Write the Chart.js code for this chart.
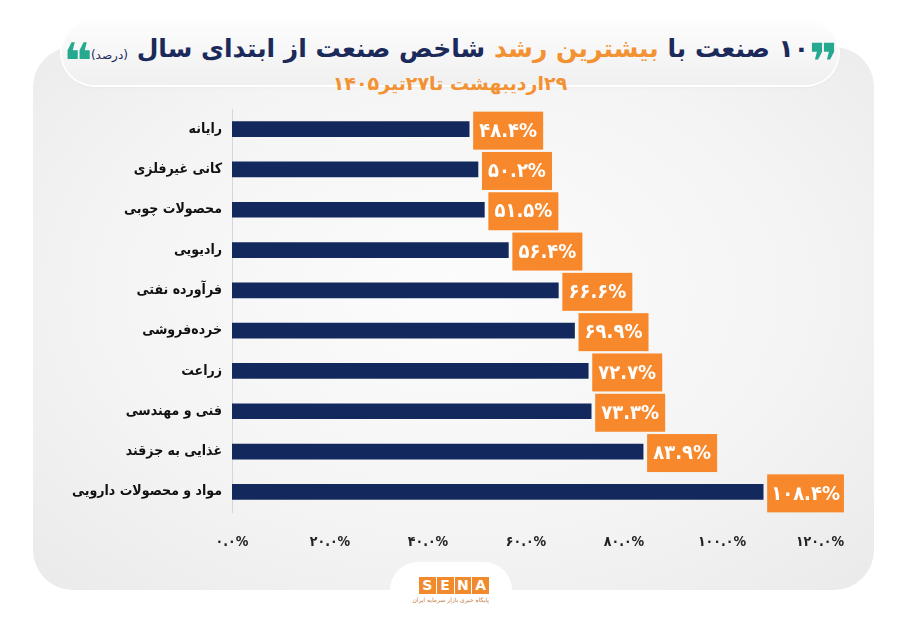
<!DOCTYPE html>
<html lang="fa">
<head>
<meta charset="utf-8">
<title>۱۰ صنعت با بیشترین رشد شاخص صنعت</title>
<script src="https://cdn.jsdelivr.net/npm/chart.js@4.4.1/dist/chart.umd.min.js"></script>
<style>
  html, body { margin: 0; padding: 0; background: #fff; }
  body { width: 900px; height: 623px; position: relative; overflow: hidden; font-family: "DejaVu Sans", sans-serif; }
  #card {
    position: absolute; left: 33px; top: 47px; width: 841px; height: 543px;
    border-radius: 40px;
    background: radial-gradient(ellipse 75% 80% at 50% 45%, #fcfcfc 0%, #f4f4f4 55%, #e9e9e9 100%);
  }
  #pill {
    position: absolute; left: 62px; top: 20px; width: 776px; height: 65px;
    border-radius: 33px;
    background: linear-gradient(#fdfdfd, #f0f0f0);
    box-shadow: 0 0 0 2px #fff, 0 1px 4px rgba(0,0,0,0.08);
  }
  #title {
    position: absolute; left: 40px; width: 820px; top: 32px; text-align: center;
    direction: rtl; white-space: nowrap;
    font-weight: bold; font-size: 25px; line-height: 34px; color: #1b2a5a;
  }
  #title .hl { color: #f39233; }
  #title .unit { font-size: 12px; font-weight: normal; vertical-align: -2px; }
  #title .q {
    color: #27a98f; font-size: 50px; line-height: 0; display: inline-block;
    vertical-align: -22px; letter-spacing: -2px;
  }
  #subtitle {
    position: absolute; left: 0; width: 900px; top: 71px; text-align: center;
    direction: rtl; font-weight: bold; font-size: 19px; line-height: 24px; color: #f39233;
  }
  #tab {
    position: absolute; left: 390px; top: 562px; width: 122px; height: 70px;
    border-radius: 28px 28px 0 0; background: #fff;
  }
  #logo { position: absolute; left: 419px; top: 577px; width: 70px; text-align: center; }
  #logo .box { display: flex; gap: 1px; }
  #logo .box span {
    flex: 1; background: #f08a2c; color: #fff; font: bold 14px "DejaVu Sans", sans-serif;
    line-height: 17px; text-align: center;
  }
  #logo .sub { direction: rtl; font-size: 6px; color: #c27b43; margin-top: 2px; white-space: nowrap; }
  #wrap { position: absolute; left: 0; top: 0; width: 900px; height: 623px; }
</style>
</head>
<body>
<div id="card"></div>
<div id="tab"></div>
<div id="pill"></div>
<div id="title"><span class="q">❞</span>۱۰ صنعت با <span class="hl">بیشترین رشد</span> شاخص صنعت از ابتدای سال <span class="unit">(درصد)</span><span class="q">❝</span></div>
<div id="subtitle">۲۹اردیبهشت تا۲۷تیر۱۴۰۵</div>
<div id="logo">
  <div class="box"><span>S</span><span>E</span><span>N</span><span>A</span></div>
  <div class="sub">پایگاه خبری بازار سرمایه ایران</div>
</div>
<div id="wrap"><canvas id="growthChart"></canvas></div>
<script>
const categories = ['رایانه', 'کانی غیرفلزی', 'محصولات چوبی', 'رادیویی', 'فرآورده نفتی',
    'خرده‌فروشی', 'زراعت', 'فنی و مهندسی', 'غذایی به جزقند', 'مواد و محصولات دارویی'];
const growth = [48.4, 50.2, 51.5, 56.4, 66.6, 69.9, 72.7, 73.3, 83.9, 108.4];
const axisMin = 0;
const axisMax = 120;
const axisStep = 20;

const faDigits = '۰۱۲۳۴۵۶۷۸۹';
function toFa(s) {
    return String(s).replace(/\d/g, d => faDigits[d]);
}

// orange value boxes next to each bar end
const valueBoxes = {
    id: 'valueBoxes',
    afterDatasetsDraw(chart) {
        const ctx = chart.ctx;
        const meta = chart.getDatasetMeta(0);
        ctx.save();
        ctx.font = 'bold 20px "DejaVu Sans Condensed", "DejaVu Sans", sans-serif';
        ctx.textBaseline = 'middle';
        ctx.textAlign = 'center';
        meta.data.forEach((bar, i) => {
            const txt = toFa(growth[i].toFixed(1)) + '%';
            const w = Math.max(70, ctx.measureText(txt).width + 8);
            const h = 38;
            const x0 = bar.x + 4;
            const yc = bar.y + 1.5;
            ctx.fillStyle = '#f7892c';
            ctx.fillRect(x0, yc - h / 2, w, h);
            ctx.fillStyle = '#fff';
            ctx.fillText(txt, x0 + w / 2, yc + 1);
        });
        ctx.restore();
    }
};

const ctx = document.getElementById('growthChart').getContext('2d');
new Chart(ctx, {
    type: 'bar',
    data: {
        labels: categories,
        datasets: [{
            label: 'رشد شاخص',
            data: growth,
            backgroundColor: '#13285d',
            barThickness: 15
        }]
    },
    options: {
        indexAxis: 'y',
        responsive: true,
        maintainAspectRatio: false,
        animation: false,
        layout: { padding: { top: 109, right: 80, bottom: 51, left: 0 } },
        plugins: {
            legend: { display: false },
            tooltip: { enabled: false }
        },
        scales: {
            y: {
                afterFit(scale) { scale.width = 232; },
                grid: { display: false, drawTicks: false },
                border: { display: true, color: '#d6d6d6' },
                ticks: {
                    padding: 10,
                    color: '#111',
                    font: { family: '"DejaVu Sans Condensed", "DejaVu Sans", sans-serif', size: 14, weight: 'bold' }
                }
            },
            x: {
                min: axisMin,
                max: axisMax,
                afterFit(scale) { scale.height = 60; },
                grid: { display: false, drawTicks: false },
                border: { display: false },
                ticks: {
                    stepSize: axisStep,
                    padding: 22,
                    color: '#222',
                    font: { family: '"DejaVu Sans Condensed", "DejaVu Sans", sans-serif', size: 14, weight: 'bold' },
                    callback: v => toFa(v.toFixed(1)) + '%'
                }
            }
        }
    },
    plugins: [valueBoxes]
});
</script>
</body>
</html>
